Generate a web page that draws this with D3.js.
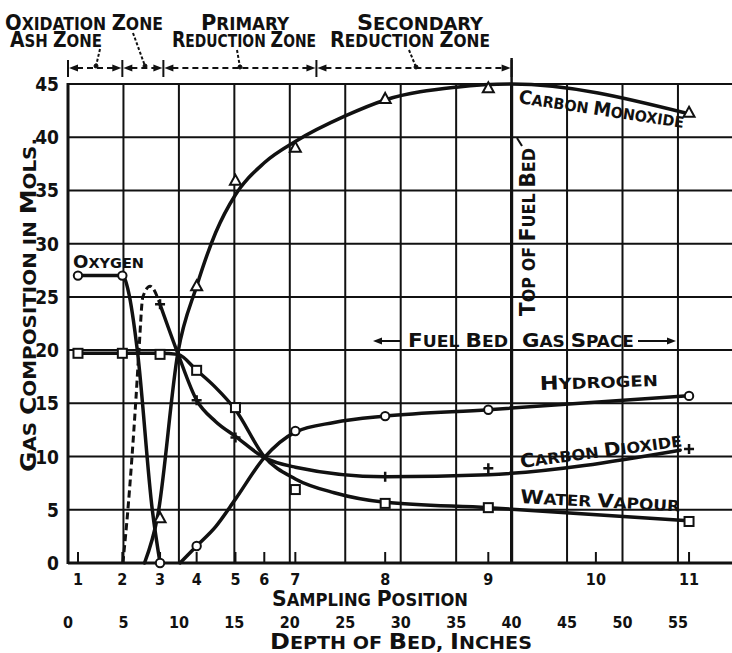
<!DOCTYPE html>
<html>
<head>
<meta charset="utf-8">
<script src="https://cdn.jsdelivr.net/npm/d3@7/dist/d3.min.js"></script>
<style>
  body { margin: 0; background: #fff; }
  text { font-family: "DejaVu Sans Condensed", "DejaVu Sans", sans-serif; font-weight: bold; fill: #111; }
</style>
</head>
<body>
<div id="chart"></div>
<script>
// sampling positions and their depth in the bed (inches)
var samplePos = [1, 2, 3, 4, 5, 6, 7, 8, 9, 10, 11];
var sampleDepth = [0.9, 4.9, 8.3, 11.6, 15.1, 17.7, 20.5, 28.6, 37.9, 47.6, 56.0];
var depthTicks = [0, 5, 10, 15, 20, 25, 30, 35, 40, 45, 50, 55];
var molTicks = [0, 5, 10, 15, 20, 25, 30, 35, 40, 45];

// plotted points: [sampling position, mols]
var oxygenMarks = [[1, 27], [2, 27], [3, 0]];
var coMarks = [[3, 4.2], [4, 26], [5, 35.9], [7, 39], [8, 43.6], [9, 44.6], [11, 42.3]];
var co2Marks = [[3, 24.3], [4, 15.3], [5, 11.8], [8, 8.1], [9, 8.9], [11, 10.7]];
var h2Marks = [[4, 1.6], [7, 12.4], [8, 13.8], [9, 14.4], [11, 15.7]];
var waterMarks = [[1, 19.7], [2, 19.7], [3, 19.6], [4, 18.1], [5, 14.6], [7, 6.9], [8, 5.6], [9, 5.2], [11, 3.9]];

// faired curves: [depth inches, mols]
var oxygenCurve = [[0.9, 27], [4.9, 27], [5.45, 25.5], [6.25, 20], [7.6, 5], [8.3, 0]];
var co2RiseCurve = [[4.95, 0], [5.4, 5], [6.1, 15], [6.4, 20], [6.75, 25], [7.4, 26], [8.3, 24.3]];
var co2Curve = [[8.3, 24.3], [9.9, 19.7], [11.6, 15.3], [13.3, 13.3], [15.1, 11.9], [17.7, 9.9], [20.5, 9.0], [28.6, 8.1], [37.9, 8.3], [55.2, 10.6]];
var coCurve = [[6.9, 0], [8.1, 4.5], [9.9, 19.7], [11.6, 26], [13.3, 31], [15.1, 34.6], [17.7, 37.6], [20.5, 39.6], [25, 42], [28.6, 43.5], [35, 44.7], [40, 45], [55.6, 42.3]];
var h2Curve = [[10.1, 0], [11.6, 1.6], [13.3, 3.4], [15.1, 6.0], [17.7, 9.9], [20.5, 12.3], [24, 13.2], [28.6, 13.8], [37.9, 14.4], [55.6, 15.7]];
var waterCurve = [[0.9, 19.7], [8.3, 19.7], [9.9, 19.6], [11.6, 18.1], [13.3, 16.5], [15.1, 14.4], [17.7, 10], [20.5, 7.9], [24, 6.6], [28.6, 5.7], [37.9, 5.2], [55.6, 4.0]];

// zones along the top (depth inches)
var zoneEdges = [0, 4.9, 8.6, 22.4, 40];

var attrs = {
    svgWidth: 732,
    svgHeight: 653,
    left: 68,
    top: 84,
    bottom: 563,
    ink: '#111'
};

var svg = d3.select('#chart').append('svg')
    .attr('width', attrs.svgWidth)
    .attr('height', attrs.svgHeight);

var x = d3.scaleLinear().domain([0, 60]).range([attrs.left, attrs.left + 60 * 11.09]);
var y = d3.scaleLinear().domain([0, 45]).range([attrs.bottom, attrs.top]);
var posX = function (p) { return x(sampleDepth[p - 1]); };

// ---------- grid ----------
var grid = svg.append('g').attr('stroke', attrs.ink);
grid.selectAll('.hgrid').data(molTicks).enter().append('line')
    .attr('x1', attrs.left).attr('x2', attrs.svgWidth)
    .attr('y1', d => y(d)).attr('y2', d => y(d))
    .attr('stroke-width', d => d === 0 ? 3 : 2);
grid.selectAll('.vgrid').data(depthTicks.filter(d => d > 0)).enter().append('line')
    .attr('x1', d => x(d)).attr('x2', d => x(d))
    .attr('y1', attrs.top).attr('y2', attrs.bottom)
    .attr('stroke-width', d => d === 40 ? 3.2 : 2);
grid.append('line')
    .attr('x1', attrs.left).attr('x2', attrs.left)
    .attr('y1', attrs.top - 1).attr('y2', attrs.bottom + 1)
    .attr('stroke-width', 3);
// top of fuel bed line reaches up to the zone bar
grid.append('line')
    .attr('x1', x(40)).attr('x2', x(40))
    .attr('y1', 58).attr('y2', attrs.top)
    .attr('stroke-width', 2.5);

// sampling position ticks
grid.selectAll('.stick').data(samplePos).enter().append('line')
    .attr('x1', d => posX(d)).attr('x2', d => posX(d))
    .attr('y1', attrs.bottom).attr('y2', attrs.bottom - 11)
    .attr('stroke-width', 2);

// ---------- axis text ----------
svg.selectAll('.ylab').data(molTicks).enter().append('text')
    .attr('x', 59).attr('y', d => y(d) + 7)
    .attr('text-anchor', 'end')
    .style('font-size', '19px')
    .text(d => d);

svg.selectAll('.plab').data(samplePos).enter().append('text')
    .attr('x', d => posX(d)).attr('y', 585)
    .attr('text-anchor', 'middle')
    .style('font-size', '16px')
    .text(d => d);

svg.selectAll('.dlab').data(depthTicks).enter().append('text')
    .attr('x', d => x(d)).attr('y', 628)
    .attr('text-anchor', 'middle')
    .style('font-size', '16px')
    .text(d => d);

// lettering of the original: capitals full size, the rest as smaller capitals
function label(txt, px, py, size, len, rot) {
    var t = svg.append('text')
        .attr('transform', 'translate(' + px + ',' + py + ') rotate(' + (rot || 0) + ')')
        .style('font-size', size + 'px');
    var runs = [];
    txt.split('').forEach(function (ch) {
        var big = ch !== ch.toLowerCase();
        var last = runs[runs.length - 1];
        if (last && last.big === big) last.s += ch;
        else runs.push({ big: big, s: ch });
    });
    t.selectAll('tspan').data(runs).enter().append('tspan')
        .style('font-size', d => (d.big ? size : size * 0.8) + 'px')
        .text(d => d.s.toUpperCase());
    if (len) t.attr('textLength', len).attr('lengthAdjust', 'spacingAndGlyphs');
    return t;
}

label('Sampling Position', 272, 606, 22, 196);
label('Depth of Bed, Inches', 270, 649, 22, 262);
label('Gas Composition in Mols.', 36, 472, 22, 334, -90);

// ---------- curves ----------
var line = d3.line().x(d => x(d[0])).y(d => y(d[1])).curve(d3.curveMonotoneX);
var curves = svg.append('g').attr('fill', 'none').attr('stroke', attrs.ink)
    .attr('stroke-linecap', 'round').attr('stroke-linejoin', 'round');
[oxygenCurve, co2Curve, coCurve, h2Curve, waterCurve].forEach(function (c) {
    curves.append('path').attr('d', line(c)).attr('stroke-width', 3.5);
});
curves.append('path').attr('d', line(co2RiseCurve))
    .attr('stroke-width', 3).attr('stroke-dasharray', '7,4').attr('stroke-linecap', 'butt');

// ---------- markers ----------
var marks = svg.append('g').attr('stroke', attrs.ink).attr('stroke-width', 2).attr('fill', '#fff');
function placeAt(d) { return 'translate(' + posX(d[0]) + ',' + y(d[1]) + ')'; }

marks.selectAll('.ox').data(oxygenMarks.concat(h2Marks)).enter().append('circle')
    .attr('transform', placeAt).attr('r', 4.2);
marks.selectAll('.wv').data(waterMarks).enter().append('rect')
    .attr('transform', placeAt).attr('x', -4.5).attr('y', -4.5).attr('width', 9).attr('height', 9);
marks.selectAll('.co').data(coMarks).enter().append('path')
    .attr('transform', placeAt).attr('d', 'M0,-6L5.5,4L-5.5,4Z');
marks.selectAll('.c2').data(co2Marks).enter().append('path')
    .attr('transform', placeAt).attr('d', 'M-5,0H5M0,-5V5').attr('stroke-width', 2.5);

// ---------- zone bar ----------
var zy = 68;
var zones = svg.append('g').attr('stroke', attrs.ink);
zones.selectAll('.zedge').data(zoneEdges).enter().append('line')
    .attr('x1', d => x(d)).attr('x2', d => x(d))
    .attr('y1', zy - 8).attr('y2', zy + 9).attr('stroke-width', 2);
d3.pairs(zoneEdges).forEach(function (p) {
    var a = x(p[0]) + 1, b = x(p[1]) - 1;
    zones.append('line').attr('x1', a + 8).attr('x2', b - 8).attr('y1', zy).attr('y2', zy)
        .attr('stroke-width', 2).attr('stroke-dasharray', '6,4');
    zones.append('path').attr('d', 'M' + a + ',' + zy + 'l9,-3.5v7z').attr('fill', attrs.ink).attr('stroke', 'none');
    zones.append('path').attr('d', 'M' + b + ',' + zy + 'l-9,-3.5v7z').attr('fill', attrs.ink).attr('stroke', 'none');
});
// leaders from zone names to their spans
var leaders = [[100, 49, 96, 66], [133, 33, 145, 66], [237, 50, 240, 67], [409, 50, 416, 67]];
zones.selectAll('.lead').data(leaders).enter().append('path')
    .attr('d', d => 'M' + d[0] + ',' + d[1] + 'L' + d[2] + ',' + d[3])
    .attr('stroke-width', 2).attr('stroke-dasharray', '3,2').attr('fill', 'none');
zones.selectAll('.ldot').data(leaders).enter().append('circle')
    .attr('cx', d => d[2]).attr('cy', d => d[3]).attr('r', 2).attr('fill', attrs.ink);

label('Oxidation Zone', 5, 30, 21, 158);
label('Ash Zone', 10, 47, 21, 92);
label('Primary', 201, 30, 21, 88);
label('Reduction Zone', 172, 47, 21, 144);
label('Secondary', 357, 30, 21, 126);
label('Reduction Zone', 330, 47, 21, 160);

// ---------- series and region names ----------
label('Oxygen', 73, 268, 17, 71);
label('Carbon Monoxide', 518, 103, 19, 167, 8.6);
label('Hydrogen', 540, 390, 19, 118, -2);
label('Carbon Dioxide', 521, 468, 19, 163, -7.7);
label('Water Vapour', 520, 503, 19, 160, 3);
label('Top of Fuel Bed', 535, 316, 21, 168, -90);
label('Fuel Bed', 408, 347, 19, 100);
label('Gas Space', 522, 347, 19, 112);

var arrows = svg.append('g').attr('stroke', attrs.ink).attr('stroke-width', 2);
arrows.append('line').attr('x1', 378).attr('x2', 400).attr('y1', 341).attr('y2', 341);
arrows.append('path').attr('d', 'M373,341l9,-3.5v7z').attr('fill', attrs.ink).attr('stroke', 'none');
arrows.append('line').attr('x1', 638).attr('x2', 670).attr('y1', 341).attr('y2', 341);
arrows.append('path').attr('d', 'M676,341l-9,-3.5v7z').attr('fill', attrs.ink).attr('stroke', 'none');
// hook from label to top of fuel bed line
arrows.append('path').attr('d', 'M522,146L517,138').attr('fill', 'none');
</script>
</body>
</html>
